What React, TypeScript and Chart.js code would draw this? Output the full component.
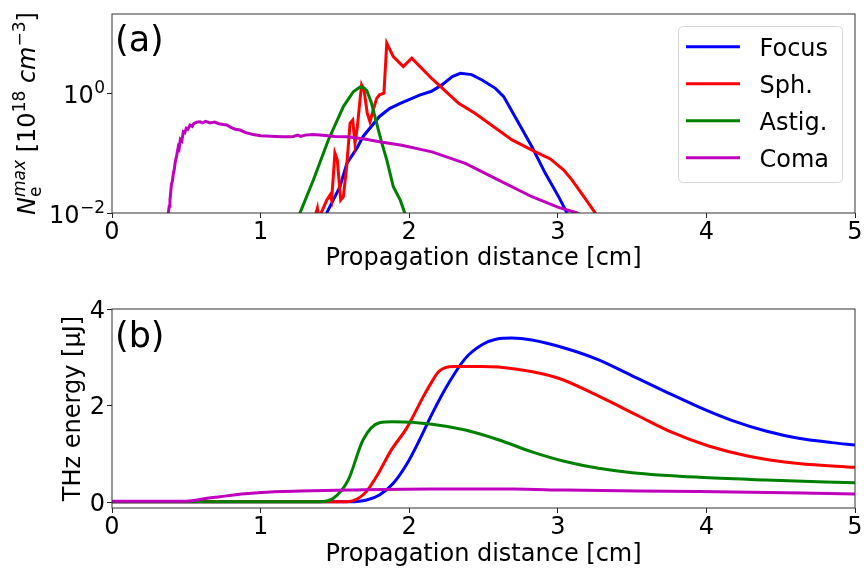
import React, { useEffect, useRef } from "react";
import { Chart, registerables } from "chart.js";

Chart.register(...registerables);

const FONT = "'DejaVu Sans', 'Noto Sans', sans-serif";

const seriesNames = ["Focus", "Sph.", "Astig.", "Coma"];
const seriesColors = ["#0000ff", "#ff0000", "#008000", "#bf00bf"];

// ---------- Panel (a): max electron density (log scale) ----------
const focusNeX = [1.43, 1.445, 1.534, 1.58, 1.647, 1.69, 1.8, 1.87, 1.94, 2.07, 2.15, 2.22, 2.29, 2.344, 2.42, 2.49, 2.58, 2.636, 2.737, 2.826, 2.916, 3.006, 3.062, 3.08];
const focusNeY = [0.007, 0.01, 0.0275, 0.067, 0.12, 0.19, 0.41, 0.56, 0.68, 0.93, 1.08, 1.38, 1.9, 2.16, 2.05, 1.67, 1.21, 0.88, 0.315, 0.128, 0.046, 0.0186, 0.01, 0.008];

const sphNeX = [1.368, 1.373, 1.382, 1.391, 1.445, 1.467, 1.478, 1.5, 1.516, 1.539, 1.557, 1.579, 1.602, 1.62, 1.635, 1.651, 1.669, 1.68, 1.696, 1.718, 1.736, 1.758, 1.781, 1.8, 1.83, 1.849, 1.893, 1.96, 2.017, 2.073, 2.153, 2.333, 2.445, 2.692, 2.85, 2.95, 3.04, 3.096, 3.18, 3.252, 3.27];
const sphNeY = [0.006, 0.01, 0.012, 0.008, 0.0164, 0.02, 0.0164, 0.1, 0.077, 0.0164, 0.0187, 0.059, 0.315, 0.358, 0.146, 0.276, 0.77, 1.38, 1.13, 0.46, 0.335, 0.526, 0.82, 0.94, 1.0, 6.86, 4.09, 2.79, 3.85, 2.79, 1.75, 0.68, 0.46, 0.166, 0.105, 0.08, 0.052, 0.0355, 0.018, 0.01, 0.008];

const astigNeX = [1.24, 1.265, 1.355, 1.456, 1.557, 1.624, 1.669, 1.69, 1.714, 1.745, 1.781, 1.815, 1.849, 1.893, 1.94, 1.97, 1.99];
const astigNeY = [0.005, 0.01, 0.0355, 0.166, 0.6, 1.06, 1.27, 1.26, 1.12, 0.7, 0.315, 0.15, 0.077, 0.0275, 0.0164, 0.01, 0.006];

const comaNeX = [0.372, 0.379, 0.385, 0.39, 0.395, 0.4, 0.407, 0.413, 0.42, 0.425, 0.435, 0.446, 0.452, 0.46, 0.47, 0.48, 0.49, 0.5, 0.51, 0.525, 0.54, 0.55, 0.57, 0.592, 0.61, 0.63, 0.66, 0.69, 0.72, 0.75, 0.772, 0.8, 0.83, 0.861, 0.9, 0.95, 1.0, 1.04, 1.1, 1.15, 1.2, 1.22, 1.25, 1.27, 1.3, 1.35, 1.4, 1.45, 1.5, 1.58, 1.7, 1.8, 1.95, 2.153, 2.378, 2.602, 2.826, 3.0, 3.13, 3.16];
const comaNeY = [0.006, 0.01, 0.013, 0.0165, 0.022, 0.03, 0.035, 0.046, 0.055, 0.07, 0.09, 0.128, 0.12, 0.17, 0.16, 0.228, 0.22, 0.26, 0.25, 0.295, 0.28, 0.31, 0.33, 0.335, 0.32, 0.34, 0.32, 0.33, 0.31, 0.3, 0.295, 0.27, 0.25, 0.243, 0.22, 0.205, 0.195, 0.193, 0.19, 0.188, 0.188, 0.19, 0.2, 0.19, 0.2, 0.205, 0.2, 0.195, 0.19, 0.188, 0.172, 0.155, 0.135, 0.105, 0.0676, 0.0355, 0.0187, 0.0125, 0.01, 0.009];

// ---------- Panel (b): THz energy ----------
const focusThzX = [0, 1.0, 1.5, 1.6, 1.714, 1.8, 1.893, 1.99, 2.07, 2.153, 2.266, 2.378, 2.49, 2.59, 2.69, 2.826, 3.05, 3.275, 3.5, 3.72, 3.99, 4.17, 4.4, 4.62, 4.845, 5.0];
const focusThzY = [0.02, 0.02, 0.02, 0.02, 0.056, 0.16, 0.4, 0.83, 1.3, 1.83, 2.47, 2.98, 3.26, 3.38, 3.4, 3.36, 3.19, 2.95, 2.62, 2.3, 1.92, 1.7, 1.48, 1.33, 1.24, 1.19];

const sphThzX = [0, 1.58, 1.7, 1.78, 1.88, 1.983, 2.095, 2.153, 2.2, 2.3, 2.49, 2.714, 3.005, 3.275, 3.544, 3.77, 4.015, 4.285, 4.62, 5.0];
const sphThzY = [0.02, 0.02, 0.19, 0.54, 1.09, 1.54, 2.19, 2.5, 2.71, 2.81, 2.81, 2.76, 2.57, 2.2, 1.79, 1.45, 1.17, 0.96, 0.81, 0.73];

const astigThzX = [0, 1.4, 1.49, 1.59, 1.69, 1.8, 1.89, 2.153, 2.378, 2.6, 2.826, 3.05, 3.275, 3.5, 3.95, 4.4, 5.0];
const astigThzY = [0.02, 0.02, 0.09, 0.47, 1.3, 1.65, 1.67, 1.62, 1.5, 1.3, 1.05, 0.85, 0.71, 0.62, 0.525, 0.47, 0.41];

const comaThzX = [0, 0.5, 0.64, 0.82, 1.0, 1.27, 1.6, 2.153, 2.7, 3.05, 3.95, 5.0];
const comaThzY = [0.03, 0.03, 0.09, 0.16, 0.21, 0.24, 0.26, 0.28, 0.28, 0.26, 0.23, 0.18];

// ---------- Axes ----------
const xTicks = [0, 1, 2, 3, 4, 5];
const neTicks = [0.01, 1];
const neTickBase = ["10", "10"];
const neTickExp = ["\u22122", "0"];
const thzTicks = [0, 2, 4];
const xTitle = "Propagation distance [cm]";
const thzTitle = "THz energy [\u03bcJ]";

const zip = (xs: number[], ys: number[]) => xs.map((x, i) => ({ x, y: ys[i] }));

function makeDatasets(xsList: number[][], ysList: number[][], smooth: boolean) {
  return xsList.map((xs, i) => ({
    label: seriesNames[i],
    data: zip(xs, ysList[i]),
    borderColor: seriesColors[i],
    backgroundColor: seriesColors[i],
    borderWidth: 3,
    pointRadius: 0,
    fill: false,
    tension: 0,
    cubicInterpolationMode: smooth ? "monotone" : "default",
    clip: 0,
    order: 4 - i,
  }));
}

function drawCommon(chart: any, xLabelBaseline: number) {
  const ctx = chart.ctx;
  const a = chart.chartArea;
  const xs = chart.scales.x;
  ctx.save();
  ctx.strokeStyle = "#333";
  ctx.lineWidth = 1;
  ctx.strokeRect(a.left, a.top, a.right - a.left, a.bottom - a.top);
  ctx.fillStyle = "#000";
  ctx.font = `24px ${FONT}`;
  ctx.textAlign = "center";
  ctx.textBaseline = "alphabetic";
  xTicks.forEach((v) => ctx.fillText(String(v), xs.getPixelForValue(v), a.bottom + 25.5));
  ctx.fillText(xTitle, (a.left + a.right) / 2, a.bottom + xLabelBaseline);
  ctx.restore();
}

const topPlugin = {
  id: "topDecor",
  afterDraw(chart: any) {
    const ctx = chart.ctx;
    const a = chart.chartArea;
    const ys = chart.scales.y;
    drawCommon(chart, 52);
    ctx.save();
    ctx.fillStyle = "#000";
    ctx.textBaseline = "alphabetic";
    // y tick labels 10^n
    neTicks.forEach((v, i) => {
      const py = ys.getPixelForValue(v);
      const right = a.left - 7;
      ctx.font = `17px ${FONT}`;
      const w = ctx.measureText(neTickExp[i]).width;
      ctx.textAlign = "left";
      ctx.fillText(neTickExp[i], right - w, py - 0.5);
      ctx.font = `24px ${FONT}`;
      ctx.textAlign = "right";
      ctx.fillText(neTickBase[i], right - w - 0.5, py + 9.5);
    });
    // y axis title: N_e^max [10^18 cm^-3]
    const F = 24;
    const S = 17;
    const pieces = [
      { t: "N", f: `italic ${F}px ${FONT}`, dy: 0 },
      { t: "e", f: `${S}px ${FONT}`, dy: 6, stack: true },
      { t: "max", f: `italic ${S}px ${FONT}`, dy: -10 },
      { t: " [10", f: `${F}px ${FONT}`, dy: 0 },
      { t: "18", f: `${S}px ${FONT}`, dy: -10 },
      { t: " ", f: `${F}px ${FONT}`, dy: 0 },
      { t: "cm", f: `italic ${F}px ${FONT}`, dy: 0 },
      { t: "\u22123", f: `${S}px ${FONT}`, dy: -10 },
      { t: "]", f: `${F}px ${FONT}`, dy: 0 },
    ];
    let total = 0;
    const widths: number[] = [];
    pieces.forEach((p, i) => {
      ctx.font = p.f;
      widths[i] = ctx.measureText(p.t).width;
    });
    for (let i = 0; i < pieces.length; i++) {
      if ((pieces[i] as any).stack) {
        total += Math.max(widths[i], widths[i + 1]);
        i++;
      } else total += widths[i];
    }
    ctx.save();
    ctx.translate(35, (a.top + a.bottom) / 2);
    ctx.rotate(-Math.PI / 2);
    ctx.textAlign = "left";
    let cx = -total / 2;
    for (let i = 0; i < pieces.length; i++) {
      const p = pieces[i] as any;
      ctx.font = p.f;
      ctx.fillText(p.t, cx, p.dy);
      if (p.stack) {
        const q = pieces[i + 1];
        ctx.font = q.f;
        ctx.fillText(q.t, cx, q.dy);
        cx += Math.max(widths[i], widths[i + 1]);
        i++;
      } else cx += widths[i];
    }
    ctx.restore();
    // panel label
    ctx.font = `35px ${FONT}`;
    ctx.textAlign = "left";
    ctx.fillText("(a)", a.left + 3, a.top + 37);
    // legend
    const lx = 678.5, ly = 26.5, lw = 164, lh = 156, r = 5;
    ctx.beginPath();
    ctx.moveTo(lx + r, ly);
    ctx.lineTo(lx + lw - r, ly);
    ctx.quadraticCurveTo(lx + lw, ly, lx + lw, ly + r);
    ctx.lineTo(lx + lw, ly + lh - r);
    ctx.quadraticCurveTo(lx + lw, ly + lh, lx + lw - r, ly + lh);
    ctx.lineTo(lx + r, ly + lh);
    ctx.quadraticCurveTo(lx, ly + lh, lx, ly + lh - r);
    ctx.lineTo(lx, ly + r);
    ctx.quadraticCurveTo(lx, ly, lx + r, ly);
    ctx.closePath();
    ctx.fillStyle = "rgba(255,255,255,0.8)";
    ctx.fill();
    ctx.strokeStyle = "#d6d6d6";
    ctx.lineWidth = 1;
    ctx.stroke();
    ctx.font = `24px ${FONT}`;
    ctx.fillStyle = "#000";
    seriesNames.forEach((name, i) => {
      const y = 46.7 + i * 37;
      ctx.strokeStyle = seriesColors[i];
      ctx.lineWidth = 3;
      ctx.beginPath();
      ctx.moveTo(686, y);
      ctx.lineTo(740, y);
      ctx.stroke();
      ctx.fillText(name, 759.5, y + 9);
    });
    ctx.restore();
  },
};

const bottomPlugin = {
  id: "bottomDecor",
  afterDraw(chart: any) {
    const ctx = chart.ctx;
    const a = chart.chartArea;
    const ys = chart.scales.y;
    drawCommon(chart, 52.5);
    ctx.save();
    ctx.fillStyle = "#000";
    ctx.font = `24px ${FONT}`;
    ctx.textAlign = "right";
    ctx.textBaseline = "alphabetic";
    thzTicks.forEach((v) => ctx.fillText(String(v), a.left - 7, ys.getPixelForValue(v) + 8.5));
    ctx.save();
    ctx.translate(80, (a.top + a.bottom) / 2);
    ctx.rotate(-Math.PI / 2);
    ctx.textAlign = "center";
    ctx.fillText(thzTitle, 0, 0);
    ctx.restore();
    ctx.font = `35px ${FONT}`;
    ctx.textAlign = "left";
    ctx.fillText("(b)", a.left + 3, a.top + 38);
    ctx.restore();
  },
};

const tickGrid = { drawOnChartArea: false, drawTicks: true, tickLength: 5, color: "#222", lineWidth: 1 };

function xScale(height: number) {
  return {
    type: "linear",
    min: 0,
    max: 5,
    afterBuildTicks: (s: any) => {
      s.ticks = xTicks.map((v) => ({ value: v }));
    },
    afterFit: (s: any) => {
      s.height = height;
    },
    ticks: { display: false },
    grid: tickGrid,
    border: { display: false },
  };
}

export default function App() {
  const topRef = useRef<HTMLCanvasElement>(null);
  const botRef = useRef<HTMLCanvasElement>(null);

  useEffect(() => {
    const top = new Chart(topRef.current as HTMLCanvasElement, {
      type: "line",
      data: {
        datasets: makeDatasets([focusNeX, sphNeX, astigNeX, comaNeX], [focusNeY, sphNeY, astigNeY, comaNeY], false) as any,
      },
      options: {
        responsive: false,
        animation: false,
        devicePixelRatio: 1,
        layout: { padding: { top: 14, right: 9, left: 0, bottom: 0 } },
        plugins: { legend: { display: false }, tooltip: { enabled: false }, title: { display: false } },
        scales: {
          x: xScale(72) as any,
          y: {
            type: "logarithmic",
            min: 0.01,
            max: 21.1,
            afterBuildTicks: (s: any) => {
              s.ticks = neTicks.map((v) => ({ value: v }));
            },
            afterFit: (s: any) => {
              s.width = 112;
            },
            ticks: { display: false },
            grid: tickGrid,
            border: { display: false },
          } as any,
        },
      },
      plugins: [topPlugin],
    });
    const bot = new Chart(botRef.current as HTMLCanvasElement, {
      type: "line",
      data: {
        datasets: makeDatasets([focusThzX, sphThzX, astigThzX, comaThzX], [focusThzY, sphThzY, astigThzY, comaThzY], true) as any,
      },
      options: {
        responsive: false,
        animation: false,
        devicePixelRatio: 1,
        layout: { padding: { top: 24, right: 9, left: 0, bottom: 0 } },
        plugins: { legend: { display: false }, tooltip: { enabled: false }, title: { display: false } },
        scales: {
          x: xScale(62) as any,
          y: {
            type: "linear",
            min: -0.11,
            max: 4,
            afterBuildTicks: (s: any) => {
              s.ticks = thzTicks.map((v) => ({ value: v }));
            },
            afterFit: (s: any) => {
              s.width = 112;
            },
            ticks: { display: false },
            grid: tickGrid,
            border: { display: false },
          } as any,
        },
      },
      plugins: [bottomPlugin],
    });
    return () => {
      top.destroy();
      bot.destroy();
    };
  }, []);

  return (
    <div style={{ position: "fixed", left: 0, top: 0, width: 864, height: 570, background: "#fff" }}>
      <canvas ref={topRef} width={864} height={285} style={{ position: "absolute", left: 0, top: 0, width: 864, height: 285 }} />
      <canvas ref={botRef} width={864} height={285} style={{ position: "absolute", left: 0, top: 285, width: 864, height: 285 }} />
    </div>
  );
}
